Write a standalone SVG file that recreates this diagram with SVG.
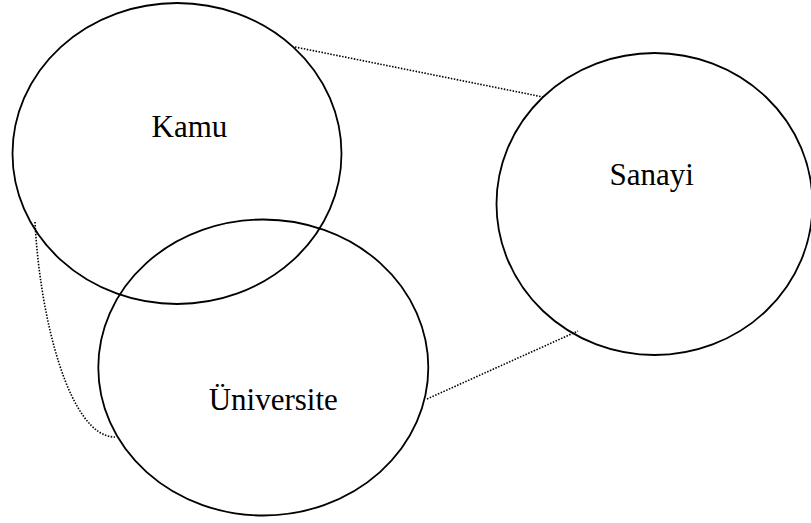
<svg xmlns="http://www.w3.org/2000/svg" width="811" height="523" viewBox="0 0 811 523">
  <style>
    .node { fill: none; stroke: #000; stroke-width: 1.8; }
    .label { font-family: "Liberation Serif", "Times New Roman", serif; font-size: 31px; fill: #000; text-anchor: middle; }
    .link { fill: none; stroke: #000; stroke-width: 1.6; stroke-dasharray: 1.5 1.5; }
  </style>
  <rect width="811" height="523" fill="#fff"/>
  <g id="connectors">
    <line class="link" x1="295" y1="47" x2="543" y2="97"/>
    <line class="link" x1="427" y1="399" x2="578" y2="331"/>
    <path class="link" d="M35,222 C40,320 70,437 115,437"/>
  </g>
  <g id="kamu">
    <ellipse class="node" cx="177" cy="153.5" rx="164.5" ry="150.5"/>
    <text class="label" x="189.5" y="137">Kamu</text>
  </g>
  <g id="universite">
    <ellipse class="node" cx="263.3" cy="367.5" rx="165" ry="148"/>
    <text class="label" x="273.3" y="410">Üniversite</text>
  </g>
  <g id="sanayi">
    <ellipse class="node" cx="654.5" cy="204" rx="158" ry="151"/>
    <text class="label" x="651.6" y="185">Sanayi</text>
  </g>
</svg>
